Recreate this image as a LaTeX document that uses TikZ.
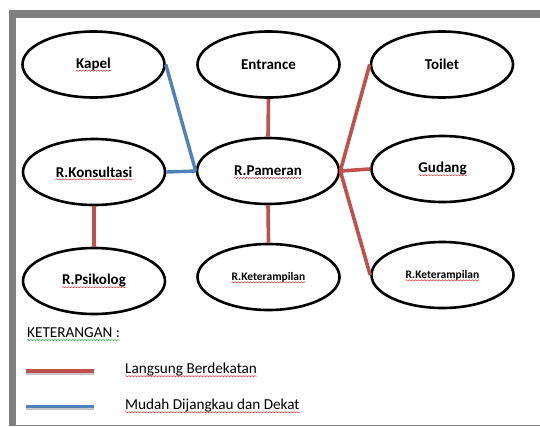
\documentclass[tikz,border=0pt]{standalone}
\usepackage{fontspec}
\setmainfont{Carlito}
\usetikzlibrary{shapes.geometric,decorations.pathmorphing}
\definecolor{linkred}{HTML}{C0504D}
\definecolor{linkblue}{HTML}{4F81BD}
\definecolor{framegray}{HTML}{808080}
\definecolor{spellred}{HTML}{E03030}
\definecolor{spellgreen}{HTML}{30A040}
\begin{document}
\begin{tikzpicture}[x=1pt,y=-1pt,
  room/.style={ellipse,draw=black,line width=2.6pt,minimum width=142pt,minimum height=66pt,inner sep=0pt},
  lbl/.style={inner sep=0pt,font=\fontsize{15}{17}\selectfont\bfseries},
  smalllbl/.style={inner sep=0pt,font=\fontsize{11.5}{13}\selectfont\bfseries},
  legendtxt/.style={inner sep=0pt,anchor=west,font=\fontsize{15.2}{17}\selectfont},
  near/.style={draw=linkred,line width=3.6pt},
  reach/.style={draw=linkblue,line width=3.4pt},
  shade/.style={draw=black!22,line width=3.6pt},
  squig/.style={draw=spellred,line width=0.45pt,decorate,decoration={snake,segment length=3pt,amplitude=0.6pt}},
  squiggreen/.style={squig,draw=spellgreen}
]
\useasboundingbox (0,0) rectangle (540,426);

% page frame
\fill[framegray] (9,10) rectangle (540,426);
\fill[white] (16,18) rectangle (540,424.5);

% rooms
\node[room] (kapel)    at (93.5,64.5) {};
\node[room] (entrance) at (268.5,64.5) {};
\node[room] (toilet)   at (442,64.5) {};
\node[room] (konsul)   at (94,172) {};
\node[room] (pameran)  at (268,171) {};
\node[room] (gudang)   at (442.5,169) {};
\node[room] (psikolog) at (94,281) {};
\node[room] (ketA)     at (268.5,277) {};
\node[room] (ketB)     at (442.5,275) {};

% room names
\node[lbl] (tkapel)    at (kapel)    {Kapel};
\node[lbl] (tentrance) at (entrance) {Entrance};
\node[lbl] (ttoilet)   at (toilet)   {Toilet};
\node[lbl] (tkonsul)   at (konsul)   {R.Konsultasi};
\node[lbl] (tpameran)  at (pameran)  {R.Pameran};
\node[lbl] (tgudang)   at (gudang)   {Gudang};
\node[lbl] (tpsikolog) at (psikolog) {R.Psikolog};
\node[smalllbl] (tketA) at (ketA)    {R.Keterampilan};
\node[smalllbl] (tketB) at (ketB)    {R.Keterampilan};

% connections: easy reach
\draw[reach] (kapel.east) -- (pameran.west);
\draw[reach] (konsul.east) -- (pameran.west);

% connections: directly adjacent
\draw[near] (entrance.south) -- (pameran.north);
\draw[near] (pameran.south) -- (ketA.north);
\draw[near] (konsul.south) -- (psikolog.north);
\draw[near] (pameran.east) -- (toilet.west);
\draw[near] (pameran.east) -- (gudang.west);
\draw[near] (pameran.east) -- (ketB.west);

% legend
\node[legendtxt] (ket)   at (27,333) {KETERANGAN :};
\node[legendtxt] (langs) at (125,370) {Langsung Berdekatan};
\node[legendtxt] (mudah) at (125,406) {Mudah Dijangkau dan Dekat};

\coordinate (ra) at (26,371);
\coordinate (rb) at (94,371);
\coordinate (ba) at (26,406.5);
\coordinate (bb) at (94,406.5);
\draw[shade] ([yshift=-2pt]ra) -- ([yshift=-2pt]rb);
\draw[near] (ra) -- (rb);
\draw[shade] ([yshift=-2pt]ba) -- ([yshift=-2pt]bb);
\draw[reach] (ba) -- (bb);

% spell-check underlines
\foreach \t in {tkapel,tkonsul,tpameran,tgudang,tpsikolog,tketA,tketB,langs,mudah}
  \draw[squig] ([yshift=-2.2pt]\t.base west) -- ([yshift=-2.2pt]\t.base east);
\draw[squiggreen] ([yshift=-2.2pt]ket.base west) -- ([yshift=-2.2pt]ket.base east);
\end{tikzpicture}
\end{document}
